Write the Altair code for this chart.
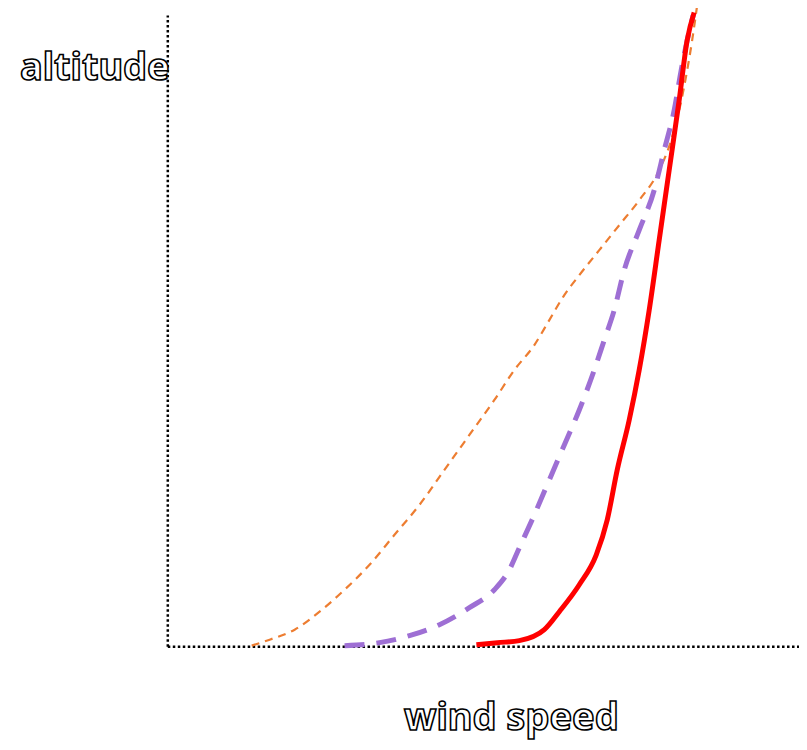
import altair as alt
import pandas as pd

# wind-speed profiles (arbitrary units: speed, altitude)
red_speed = [309, 330, 352, 377, 392, 412, 429, 440, 450, 462, 472, 482, 492, 502, 512, 520, 527]
red_alt   = [2, 4, 6, 17, 35, 62, 92, 127, 177, 227, 277, 337, 407, 477, 547, 607, 635]

purple_speed = [177, 212, 242, 272, 302, 327, 342, 352, 367, 382, 397, 412, 427, 437, 447, 457, 472, 487, 497, 507, 514, 520, 526]
purple_alt   = [1, 4, 11, 22, 39, 57, 77, 99, 132, 167, 202, 237, 277, 307, 337, 377, 417, 457, 497, 537, 577, 607, 632]

orange_speed = [84, 102, 127, 152, 177, 202, 227, 252, 277, 302, 327, 347, 367, 382, 397, 412, 432, 452, 472, 492, 504, 512, 520, 525, 530]
orange_alt   = [1, 7, 17, 35, 57, 82, 112, 142, 177, 212, 247, 277, 302, 327, 352, 372, 397, 422, 447, 477, 507, 537, 577, 607, 642]

def frame(s, a, name):
    return pd.DataFrame({"speed": s, "alt": a, "series": name, "order": range(len(s))})

red = frame(red_speed, red_alt, "red")
purple = frame(purple_speed, purple_alt, "purple")
orange = frame(orange_speed, orange_alt, "orange")

xs = alt.Scale(domain=[0, 632], nice=False, zero=False)
ys = alt.Scale(domain=[0, 632], nice=False, zero=False)

def line(df, color, width, dash=None):
    kw = dict(color=color, strokeWidth=width, interpolate="monotone", clip=False)
    if dash:
        kw["strokeDash"] = dash
    return alt.Chart(df).mark_line(**kw).encode(
        x=alt.X("speed:Q", scale=xs, axis=None),
        y=alt.Y("alt:Q", scale=ys, axis=None),
        order="order:Q",
    )

axes_df = pd.DataFrame({"x": [0], "y": [0], "x2": [632], "y2": [632]})
x_axis = alt.Chart(axes_df).mark_rule(color="black", strokeWidth=2.5, strokeDash=[2.5, 2.5]).encode(
    x=alt.X("x:Q", scale=xs, axis=None), x2="x2:Q", y=alt.Y("y:Q", scale=ys, axis=None)
)
y_axis = alt.Chart(axes_df).mark_rule(color="black", strokeWidth=2.5, strokeDash=[2.5, 2.5]).encode(
    x=alt.X("x:Q", scale=xs, axis=None), y=alt.Y("y:Q", scale=ys, axis=None), y2="y2:Q"
)

labels_df = pd.DataFrame({"label": ["altitude"]})
alt_label = alt.Chart(labels_df).mark_text(
    text="altitude", font="Noto Sans", fontSize=38, fontWeight="bold", fill="white", stroke="black",
    strokeWidth=1.6, align="center", baseline="middle"
).encode(x=alt.value(-73), y=alt.value(54))
ws_label = alt.Chart(labels_df).mark_text(
    text="wind speed", font="Noto Sans", fontSize=38, fontWeight="bold", fill="white", stroke="black",
    strokeWidth=1.6, align="center", baseline="middle"
).encode(x=alt.value(344), y=alt.value(704))

chart = alt.layer(
    x_axis, y_axis,
    line(orange, "#ed7d31", 2.2, [8, 6]),
    line(purple, "#9e6fd4", 5, [20, 12]),
    line(red, "#ff0000", 5),
    alt_label, ws_label,
).properties(
    width=632, height=632,
    autosize=alt.AutoSizeParams(type="none"),
    padding={"left": 160, "top": 7, "right": 0, "bottom": 93},
).configure_view(stroke=None)

chart.save("out.html", embed_options={"renderer": "svg", "actions": False})
